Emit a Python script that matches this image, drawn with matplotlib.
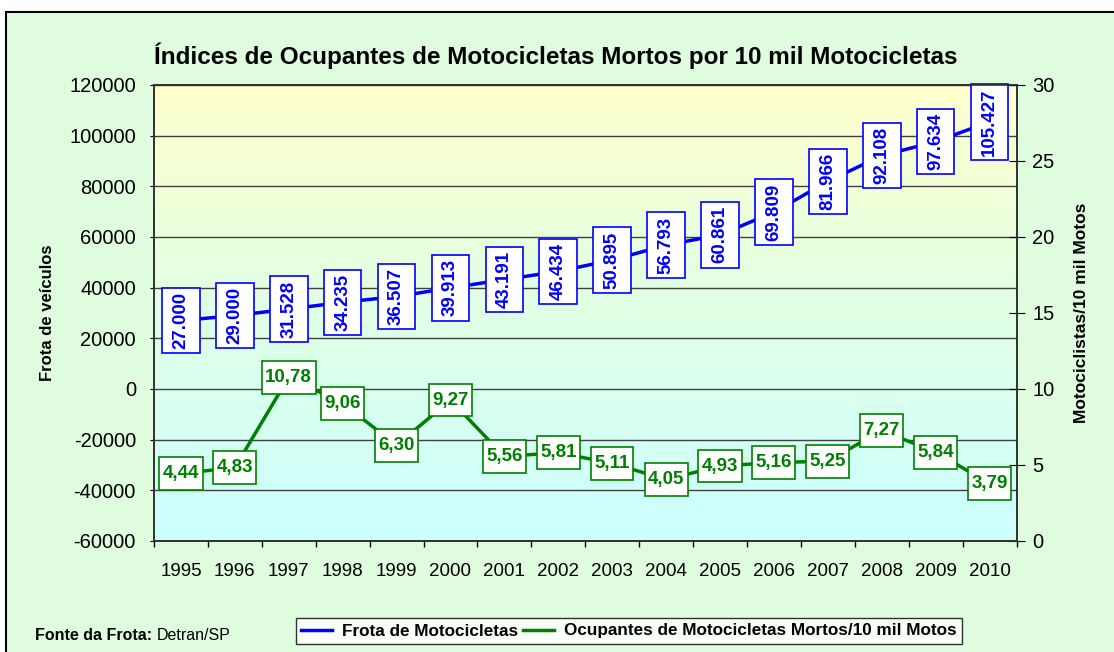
import matplotlib
matplotlib.use("Agg")
import matplotlib.pyplot as plt
import numpy as np
from matplotlib.patches import Rectangle
from matplotlib.path import Path
from matplotlib.colors import LinearSegmentedColormap

plt.rcParams['font.family'] = ['Liberation Sans', 'DejaVu Sans']
plt.rcParams['axes.unicode_minus'] = False

# data
anos = ['1995', '1996', '1997', '1998', '1999', '2000', '2001', '2002',
        '2003', '2004', '2005', '2006', '2007', '2008', '2009', '2010']
frota = [27000, 29000, 31528, 34235, 36507, 39913, 43191, 46434,
         50895, 56793, 60861, 69809, 81966, 92108, 97634, 105427]
mortos = [4.44, 4.83, 10.78, 9.06, 6.30, 9.27, 5.56, 5.81,
          5.11, 4.05, 4.93, 5.16, 5.25, 7.27, 5.84, 3.79]

BLUE = '#0000FF'
GREEN = '#008000'
FIGBG = '#DFFCDF'


def boxstyle(padx, pady):
    # square label box with different padding along / across the text
    def f(x0, y0, width, height, mutation_size):
        px = padx * mutation_size
        py = pady * mutation_size
        verts = [(x0 - px, y0 - py), (x0 + width + px, y0 - py),
                 (x0 + width + px, y0 + height + py), (x0 - px, y0 + height + py),
                 (x0 - px, y0 - py)]
        return Path(verts, closed=True)
    return f


fig = plt.figure(figsize=(11.14, 6.52), dpi=100)
fig.patch.set_facecolor('white')
# chart area frame (runs off the right and bottom edge)
fig.patches.append(Rectangle((6/1114, -0.05), 1.2, 1 - 12/652 + 0.05,
                             transform=fig.transFigure, facecolor=FIGBG,
                             edgecolor='black', linewidth=1.5, zorder=-10))

ax1 = fig.add_axes([154/1114, 1 - 541/652, (1016.5 - 154)/1114, (541 - 85)/652])
ax2 = ax1.twinx()

x = np.arange(len(anos))

# gradient background of plot area
cmap = LinearSegmentedColormap.from_list('bg', ['#CCFFFF', '#E0FFE6', '#FFFFCC'])
grad = np.linspace(0, 1, 256).reshape(-1, 1)
ax1.imshow(grad, cmap=cmap, aspect='auto', extent=[0, 1, 0, 1], origin='lower',
           transform=ax1.transAxes, zorder=-5)

ax1.plot(x, frota, color=BLUE, lw=2.5, zorder=3)
ax2.plot(x, mortos, color=GREEN, lw=2.5, zorder=3)

ax1.set_xlim(-0.5, len(anos) - 0.5)
ax1.set_ylim(-60000, 120000)
ax1.set_yticks(np.arange(-60000, 120001, 20000))
ax2.set_ylim(0, 30)
ax2.set_yticks(np.arange(0, 31, 5))

ax1.yaxis.grid(True, color='#404040', lw=1)
ax1.set_axisbelow(True)

ax1.set_xticks(x)
ax1.set_xticklabels(anos)
ax1.set_xticks(np.arange(-0.5, len(anos), 1), minor=True)
ax1.tick_params(axis='x', which='major', length=0, pad=16, labelsize=13.5)
ax1.tick_params(axis='x', which='minor', length=4, direction='out', width=1)
ax1.tick_params(axis='y', length=3, direction='out', pad=10, labelsize=14.5)
ax2.tick_params(axis='y', length=11, direction='inout', pad=6, labelsize=14.5)

for a in (ax1, ax2):
    for s in a.spines.values():
        s.set_color('#303030')
        s.set_linewidth(1.2)
ax2.patch.set_visible(False)

ax1.set_ylabel('Frota de veículos', fontsize=12, fontweight='bold', labelpad=10)
ax2.set_ylabel('Motociclistas/10 mil Motos', fontsize=12.5, fontweight='bold', labelpad=14)

for xi, v in zip(x, frota):
    txt = f'{v:,}'.replace(',', '.')
    ax1.text(xi, v, txt, rotation=90, ha='center', va='center', color=BLUE,
             fontsize=13.5, fontweight='bold', zorder=5,
             bbox=dict(boxstyle=boxstyle(0.22, 0.55), fc='white', ec=BLUE, lw=1.2))

for xi, v in zip(x, mortos):
    txt = f'{v:.2f}'.replace('.', ',')
    ax2.text(xi, v, txt, ha='center', va='center', color=GREEN,
             fontsize=13.5, fontweight='bold', zorder=5,
             bbox=dict(boxstyle=boxstyle(0.18, 0.42), fc='white', ec=GREEN, lw=1.2))

fig.text(556/1114, 1 - 56/652,
         'Índices de Ocupantes de Motocicletas Mortos por 10 mil Motocicletas',
         ha='center', va='center', fontsize=17.5, fontweight='bold')

h1 = plt.Line2D([], [], color=BLUE, lw=2.5)
h2 = plt.Line2D([], [], color=GREEN, lw=2.5)
leg = fig.legend([h1, h2], ['Frota de Motocicletas',
                            'Ocupantes de Motocicletas Mortos/10 mil Motos'],
                 loc='center', bbox_to_anchor=(629/1114, 1 - 631/652), ncol=2,
                 frameon=True, fancybox=False, edgecolor='black', facecolor='white',
                 prop={'weight': 'bold', 'size': 12.3}, handlelength=1.8,
                 handletextpad=0.6, columnspacing=0.25, borderpad=0.3)
leg.get_frame().set_linewidth(1)

t1 = fig.text(35/1114, 1 - 643/652, 'Fonte da Frota:', ha='left', va='bottom',
              fontsize=11.5, fontweight='bold')
ax1.annotate('Detran/SP', xy=(1, 0), xycoords=t1, xytext=(3, 0),
             textcoords='offset points', ha='left', va='bottom', fontsize=11.5,
             annotation_clip=False)

fig.savefig('out.png', dpi=100, facecolor=fig.get_facecolor())
